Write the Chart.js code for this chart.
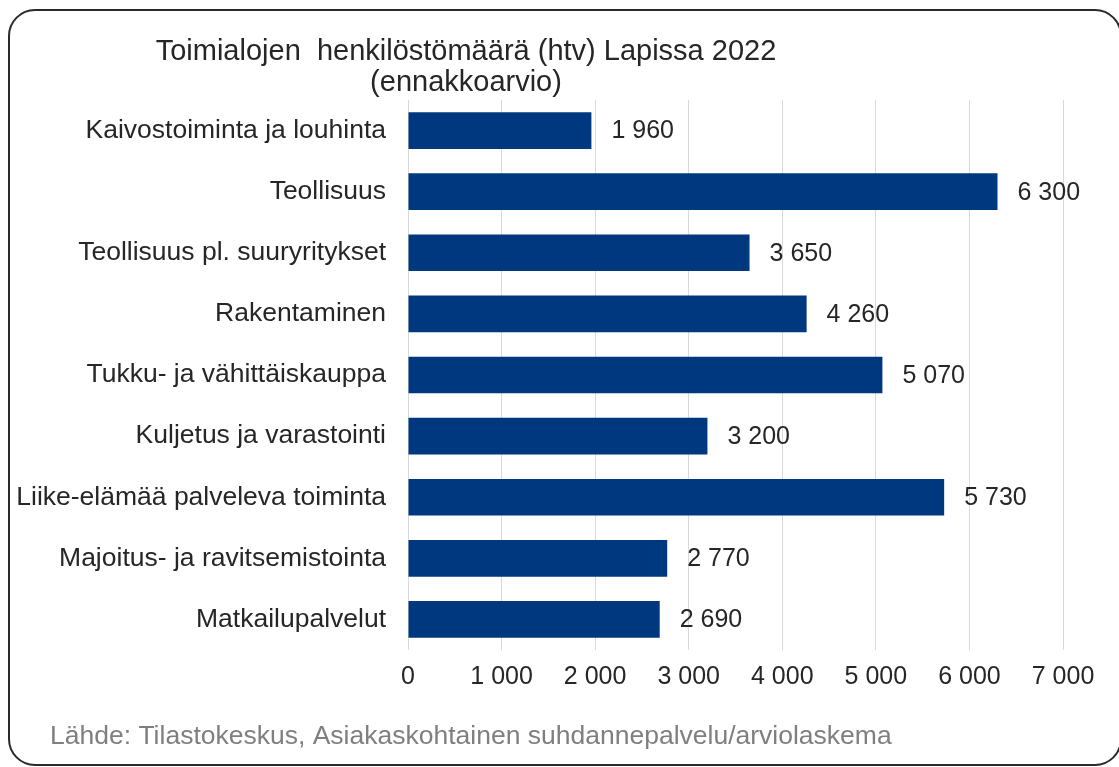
<!DOCTYPE html>
<html>
<head>
<meta charset="utf-8">
<script src="https://cdn.jsdelivr.net/npm/chart.js@4/dist/chart.umd.min.js"></script>
<style>
  html, body { margin: 0; padding: 0; background: #fff; }
  #wrap { width: 1119px; height: 767px; position: relative; }
</style>
</head>
<body>
<div id="wrap"><canvas id="chart"></canvas></div>
<script>
const categories = [
    'Kaivostoiminta ja louhinta',
    'Teollisuus',
    'Teollisuus pl. suuryritykset',
    'Rakentaminen',
    'Tukku- ja vähittäiskauppa',
    'Kuljetus ja varastointi',
    'Liike-elämää palveleva toiminta',
    'Majoitus- ja ravitsemistointa',
    'Matkailupalvelut',
];
const employees = [1960, 6300, 3650, 4260, 5070, 3200, 5730, 2770, 2690];
const titleLines = ['Toimialojen  henkilöstömäärä (htv) Lapissa 2022', '(ennakkoarvio)'];
const sourceText = 'Lähde: Tilastokeskus, Asiakaskohtainen suhdannepalvelu/arviolaskema';

const FONT = '"Liberation Sans", Arial, sans-serif';
const fmt = (v) => String(v).replace(/\B(?=(\d{3})+(?!\d))/g, ' ');

// frame, title, source and value labels
const decorations = {
    id: 'decorations',
    beforeDraw(chart) {
        const ctx = chart.ctx;
        ctx.save();
        ctx.fillStyle = '#fff';
        ctx.fillRect(0, 0, chart.width, chart.height);
        ctx.beginPath();
        ctx.roundRect(9, 10, 1112, 755, 26);
        ctx.lineWidth = 2;
        ctx.strokeStyle = '#2a2a2a';
        ctx.stroke();
        ctx.restore();
    },
    afterDatasetsDraw(chart) {
        const ctx = chart.ctx;
        ctx.save();
        ctx.fillStyle = '#262626';
        ctx.textAlign = 'center';
        ctx.textBaseline = 'alphabetic';
        ctx.font = '29px ' + FONT;
        ctx.fillText(titleLines[0], 466, 60);
        ctx.fillText(titleLines[1], 466, 91);

        ctx.font = '25px ' + FONT;
        ctx.textAlign = 'left';
        ctx.textBaseline = 'middle';
        const meta = chart.getDatasetMeta(0);
        meta.data.forEach((bar, i) => {
            ctx.fillText(fmt(employees[i]), bar.x + 20, bar.y + 1);
        });

        ctx.fillStyle = '#7f7f7f';
        ctx.font = '26.5px ' + FONT;
        ctx.textBaseline = 'alphabetic';
        ctx.fillText(sourceText, 50, 744);
        ctx.restore();
    },
};

new Chart(document.getElementById('chart').getContext('2d'), {
    type: 'bar',
    data: {
        labels: categories,
        datasets: [{
            data: employees,
            backgroundColor: '#00387f',
            borderWidth: 0,
            barPercentage: 0.6,
            categoryPercentage: 1.0,
        }],
    },
    options: {
        indexAxis: 'y',
        responsive: true,
        maintainAspectRatio: false,
        animation: false,
        layout: { padding: { top: 100, right: 56, bottom: 67, left: 0 } },
        scales: {
            x: {
                min: 0,
                max: 7000,
                ticks: {
                    stepSize: 1000,
                    color: '#262626',
                    font: { family: FONT, size: 25 },
                    padding: 12,
                    maxRotation: 0,
                    callback: (v) => fmt(v),
                },
                grid: { color: '#d9d9d9', lineWidth: 1, drawTicks: false },
                border: { display: false },
                afterFit: (scale) => { scale.height = 50; },
            },
            y: {
                ticks: {
                    color: '#262626',
                    font: { family: FONT, size: 26.5 },
                    padding: 22,
                },
                grid: { display: false, drawTicks: false },
                border: { display: false },
                afterFit: (scale) => { scale.width = 408; },
            },
        },
        plugins: {
            legend: { display: false },
            tooltip: { enabled: false },
            title: { display: false },
        },
    },
    plugins: [decorations],
});
</script>
</body>
</html>
